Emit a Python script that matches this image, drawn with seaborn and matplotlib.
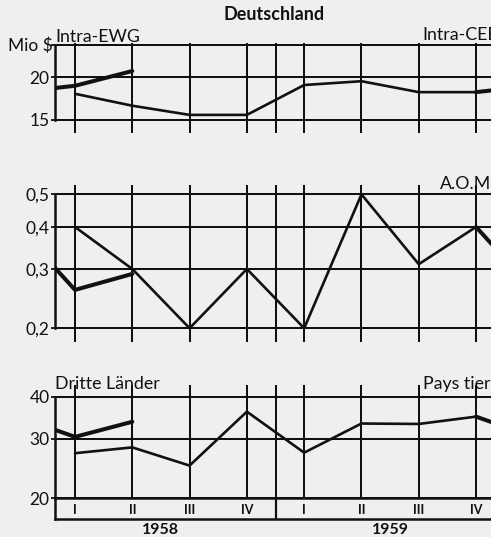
import matplotlib
matplotlib.use("Agg")
import matplotlib.pyplot as plt
import seaborn as sns
import pandas as pd
from matplotlib.ticker import NullLocator

# ---------------- data ----------------
quarters = ["I", "II", "III", "IV", "I", "II", "III", "IV"]
years = ["1958", "1959"]
intra_5859 = [17.9, 16.5, 15.5, 15.5, 19.0, 19.5, 18.1, 18.1]
intra_60 = [18.9, 20.9]
aom_5859 = [0.40, 0.30, 0.20, 0.30, 0.20, 0.50, 0.31, 0.40]
aom_60 = [0.26, 0.29]
tiers_5859 = [27.2, 28.3, 25.0, 36.1, 27.3, 33.3, 33.2, 34.9]
tiers_60 = [30.4, 33.7]
intra_ticks = [15, 20, 25]
intra_ticklabels = ["15", "20", ""]
aom_ticks = [0.2, 0.3, 0.4, 0.5]
aom_ticklabels = ["0,2", "0,3", "0,4", "0,5"]
tiers_ticks = [20, 30, 40]
tiers_ticklabels = ["20", "30", "40"]

# ---------------- style ----------------
sns.set_theme(style="white")
plt.rcParams["font.family"] = ["Lato", "DejaVu Sans"]
BG = "#efefef"
INK = "#111111"

W, H = 491, 537
fig = plt.figure(figsize=(W / 100, H / 100), dpi=100, facecolor=BG)


def rect(y_top, y_bot, x0=55, x1=491):
    return [x0 / W, 1 - y_bot / H, (x1 - x0) / W, (y_bot - y_top) / H]


XL = (0.651, 8.261)
pos = list(range(1, len(quarters) + 1))

panels = [
    dict(top=43, bot=133, ylim=(13.7, 25.3), ticks=intra_ticks, labels=intra_ticklabels,
         spine=(15, 25), thin=intra_5859, thick=intra_60),
    dict(top=185, bot=342, ylim=(0.182, 0.533), ticks=aom_ticks, labels=aom_ticklabels,
         spine=(0.2, 0.5), thin=aom_5859, thick=aom_60),
    dict(top=385, bot=498.3, ylim=(20, 43.3), ticks=tiers_ticks, labels=tiers_ticklabels,
         spine=(20, 40), thin=tiers_5859, thick=tiers_60),
]

for p in panels:
    ax = fig.add_axes(rect(p["top"], p["bot"]))
    ax.set_facecolor("none")
    ax.set_yscale("log")
    thin_df = pd.DataFrame({"pos": pos, "value": p["thin"]})
    prev = p["thin"][-1]
    thick_df = pd.DataFrame({
        "pos": [0, 1, 2, 8, 9],
        "value": [prev, p["thick"][0], p["thick"][1], prev, p["thick"][0]],
        "seg": [0, 0, 0, 1, 1],
    })
    sns.lineplot(data=thin_df, x="pos", y="value", ax=ax, color=INK, linewidth=1.9,
                 estimator=None, sort=False)
    sns.lineplot(data=thick_df, x="pos", y="value", units="seg", ax=ax, color=INK,
                 linewidth=2.9, estimator=None, sort=False)
    ax.set_xlim(*XL)
    ax.set_ylim(*p["ylim"])
    ax.set_xlabel("")
    ax.set_ylabel("")
    ax.set_xticks(pos + [4.5])
    ax.tick_params(axis="x", length=0, labelbottom=False)
    ax.set_yticks(p["ticks"], p["labels"])
    ax.yaxis.set_minor_locator(NullLocator())
    ax.tick_params(axis="y", length=3, width=1.3, color=INK, labelsize=12.5,
                   labelcolor=INK, pad=1.0, left=True)
    ax.grid(True, color=INK, linewidth=1.45)
    for s in ("top", "right", "bottom"):
        ax.spines[s].set_visible(False)
    ax.spines["left"].set_bounds(*p["spine"])
    ax.spines["left"].set_color(INK)
    ax.spines["left"].set_linewidth(1.8)

# quarter / year box
axb = fig.add_axes(rect(498.3, 519))
axb.set_facecolor("none")
axb.set_xlim(*XL)
axb.set_ylim(0, 1)
axb.set_xticks([])
axb.set_yticks([])
axb.spines["right"].set_visible(False)
for s in ("top", "bottom", "left"):
    axb.spines[s].set_color(INK)
    axb.spines[s].set_linewidth(1.8)
axb.axvline(4.5, color=INK, linewidth=1.6)
for x, q in zip(pos, quarters):
    axb.text(x, 0.45, q, ha="center", va="center", fontsize=9, fontweight="bold", color=INK)
for i, y in enumerate(years):
    axb.text(2.5 + 4 * i, -0.55, y, ha="center", va="center", fontsize=11.5,
             fontweight="bold", color=INK)


def ftext(x, y, s, **kw):
    fig.text(x / W, 1 - y / H, s, color=INK, **kw)


ftext(274, 14, "Deutschland", ha="center", va="center", fontsize=13, fontweight="bold")
ftext(55, 37, "Intra-EWG", ha="left", va="center", fontsize=12.8)
ftext(53, 46, "Mio $", ha="right", va="center", fontsize=12.5)
ftext(422, 35, "Intra-CEE", ha="left", va="center", fontsize=12.8)
ftext(440, 184, "A.O.M.", ha="left", va="center", fontsize=12.8)
ftext(55, 384, "Dritte Länder", ha="left", va="center", fontsize=12.8)
ftext(423, 384, "Pays tiers", ha="left", va="center", fontsize=12.8)

fig.savefig("out.png", dpi=100, facecolor=BG)
